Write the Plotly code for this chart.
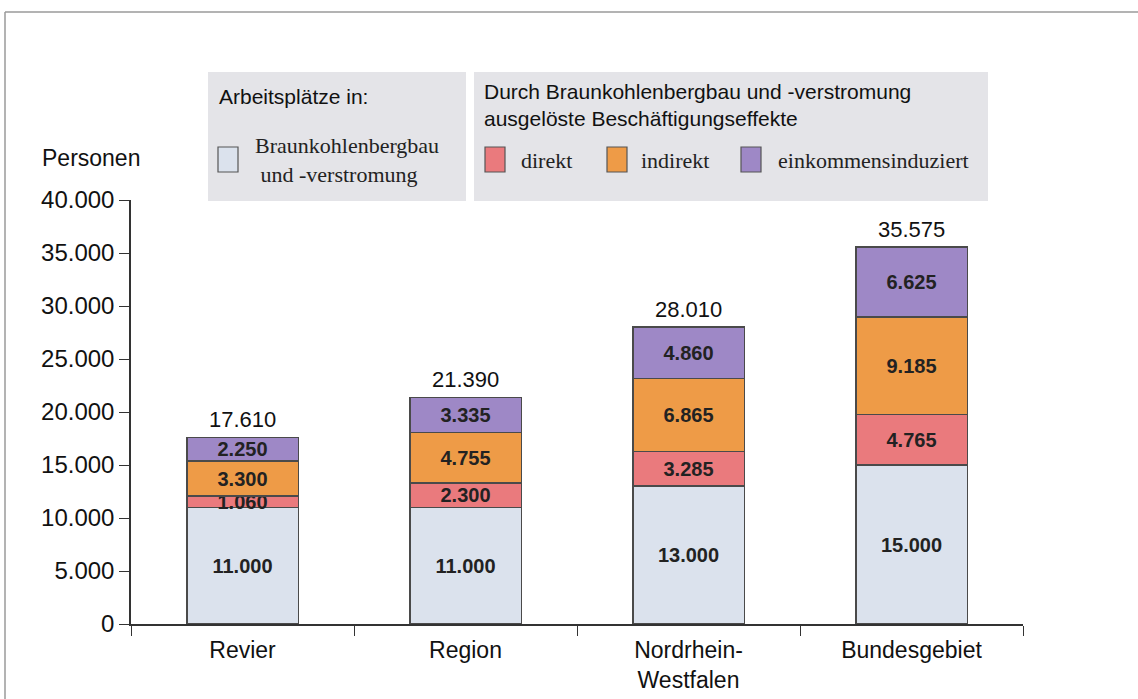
import plotly.graph_objects as go

categories = ["Revier", "Region", "Nordrhein-<br>Westfalen", "Bundesgebiet"]
arbeitsplaetze = [11000, 11000, 13000, 15000]
direkt = [1060, 2300, 3285, 4765]
indirekt = [3300, 4755, 6865, 9185]
einkommen = [2250, 3335, 4860, 6625]
totals = [a + b + c + d for a, b, c, d in zip(arbeitsplaetze, direkt, indirekt, einkommen)]
y_ticks = [0, 5000, 10000, 15000, 20000, 25000, 30000, 35000, 40000]

series = [
    ("Braunkohlenbergbau und -verstromung", arbeitsplaetze, "#dbe2ed"),
    ("direkt", direkt, "#ea7a7d"),
    ("indirekt", indirekt, "#ee9b47"),
    ("einkommensinduziert", einkommen, "#9e88c6"),
]

W, H = 1138, 699
L, R, T, B = 131, 1023, 200, 624


def px(x):
    return (x - L) / (R - L)


def py(y):
    return (B - y) / (B - T)


sans = "Liberation Sans, Arial, sans-serif"
serif = "Liberation Serif, Times New Roman, serif"

fig = go.Figure()
for name, vals, col in series:
    fig.add_trace(go.Bar(
        x=categories, y=vals, name=name,
        marker=dict(color=col, line=dict(color="#4a4a4a", width=1.5)),
        texttemplate="%{y:,.0f}", textposition="inside", insidetextanchor="middle",
        textangle=0,
        textfont=dict(family=sans, size=20, color="#222222", weight="bold"),
        showlegend=False,
    ))

# totals above bars
for c, t in zip(categories, totals):
    fig.add_annotation(x=c, y=t, text=f"{t:,}".replace(",", "."), showarrow=False,
                       yanchor="bottom", yshift=3,
                       font=dict(family=sans, size=22, color="#111111"))

shapes = []
# outer frame lines
shapes.append(dict(type="line", xref="paper", yref="paper", x0=px(5), x1=px(1138), y0=py(12), y1=py(12),
                   line=dict(color="#9a9a9a", width=1.5)))
shapes.append(dict(type="line", xref="paper", yref="paper", x0=px(5), x1=px(5), y0=py(12), y1=py(699),
                   line=dict(color="#9a9a9a", width=1.5)))
# legend boxes
for x0, x1 in [(208, 466), (474, 988)]:
    shapes.append(dict(type="rect", xref="paper", yref="paper", x0=px(x0), x1=px(x1), y0=py(201), y1=py(72),
                       fillcolor="#e4e4e8", line=dict(width=0), layer="below"))
# legend swatches
swatches = [(218, series[0][2]), (485, series[1][2]), (607, series[2][2]), (741, series[3][2])]
for x0, col in swatches:
    shapes.append(dict(type="rect", xref="paper", yref="paper", x0=px(x0), x1=px(x0 + 20), y0=py(172), y1=py(147),
                       fillcolor=col, line=dict(color="#555555", width=1.2)))
fig.update_layout(shapes=shapes)


def txt(x, y, s, font, size, anchor="left", color="#111111"):
    fig.add_annotation(xref="paper", yref="paper", x=px(x), y=py(y), text=s, showarrow=False,
                       xanchor=anchor, yanchor="middle", align="left",
                       font=dict(family=font, size=size, color=color))


txt(217, 97, "Arbeitsplätze in:", sans, 21)
txt(482, 92, "Durch Braunkohlenbergbau und -verstromung", sans, 21)
txt(482, 118, "ausgelöste Beschäftigungseffekte", sans, 21)
fig.add_annotation(xref="paper", yref="paper", x=px(253), y=py(160),
                   text="Braunkohlenbergbau<br>&nbsp;und -verstromung", showarrow=False,
                   xanchor="left", yanchor="middle", align="left",
                   font=dict(family=serif, size=22, color="#222222"))
txt(519, 160, "direkt", serif, 22, color="#222222")
txt(639, 160, "indirekt", serif, 22, color="#222222")
txt(776, 160, "einkommensinduziert", serif, 22, color="#222222")
txt(40, 158, "Personen", sans, 23)

fig.update_layout(
    width=W, height=H,
    margin=dict(l=L, r=W - R, t=T, b=H - B, pad=0, autoexpand=False),
    barmode="stack", bargap=0.5,
    separators=",.",
    plot_bgcolor="white", paper_bgcolor="white",
    uniformtext=dict(minsize=20, mode="show"),
    font=dict(family=sans, color="#111111"),
    xaxis=dict(showline=True, linecolor="#333333", linewidth=1.5, ticks="outside", ticklen=10,
               tickcolor="#333333", tickson="boundaries", showgrid=False, ticklabelstandoff=5,
               automargin=False,
               tickfont=dict(family=sans, size=23, color="#111111")),
    yaxis=dict(range=[0, 40000], tickvals=y_ticks, tickformat=",.0f", showline=True, linecolor="#333333",
               linewidth=1.5, ticks="outside", ticklen=10, tickcolor="#333333", showgrid=False,
               automargin=False,
               zeroline=False, tickfont=dict(family=sans, size=24, color="#111111")),
)

fig.write_html("out.html", config={"displayModeBar": False},
               post_script="document.body.style.margin='0';document.body.style.padding='0';")
